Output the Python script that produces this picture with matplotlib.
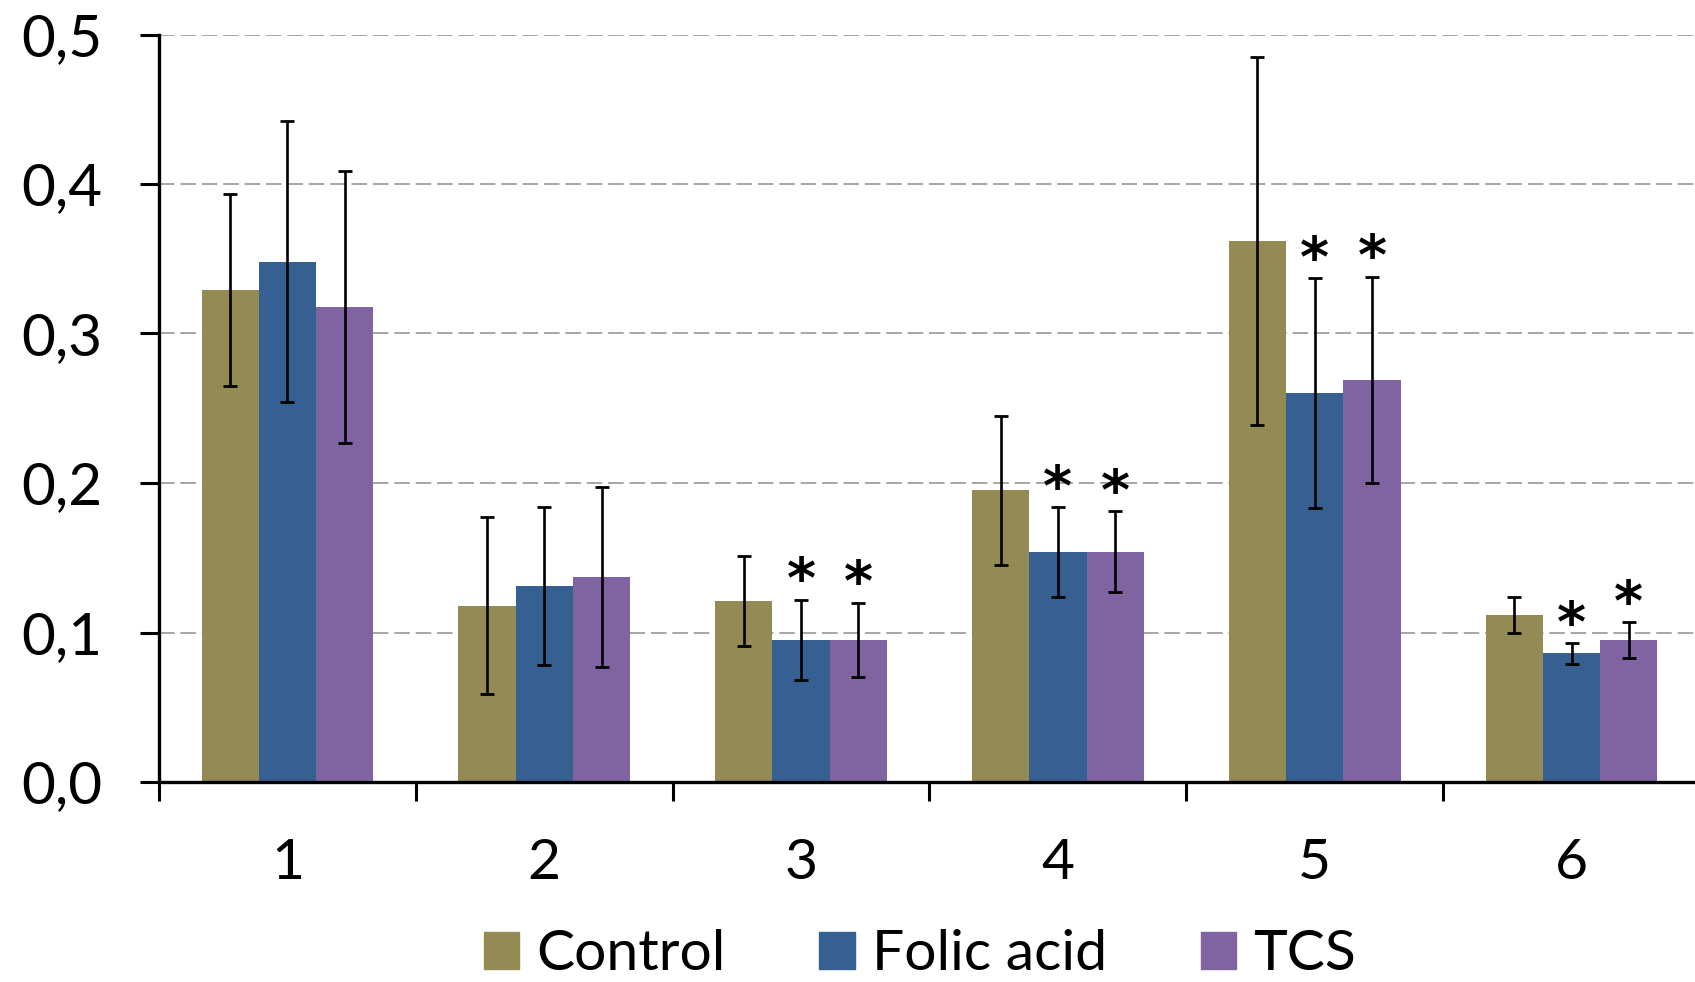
import matplotlib
matplotlib.use("Agg")
import matplotlib.pyplot as plt
import numpy as np
from matplotlib.patches import Patch

plt.rcParams['font.family'] = ['Lato', 'DejaVu Sans']

groups = ['1', '2', '3', '4', '5', '6']
series = ['Control', 'Folic acid', 'TCS']
colors = ['#948A54', '#376092', '#8064A2']

control = [0.329, 0.118, 0.121, 0.195, 0.362, 0.112]
control_err = [0.064, 0.059, 0.030, 0.050, 0.123, 0.012]
folic = [0.348, 0.131, 0.095, 0.154, 0.260, 0.086]
folic_err = [0.094, 0.053, 0.027, 0.030, 0.077, 0.007]
tcs = [0.318, 0.137, 0.095, 0.154, 0.269, 0.095]
tcs_err = [0.091, 0.060, 0.025, 0.027, 0.069, 0.012]

# significance marks (*)
control_sig = [False] * 6
folic_sig = [False, False, True, True, True, True]
tcs_sig = [False, False, True, True, True, True]

valori = [control, folic, tcs]
errori = [control_err, folic_err, tcs_err]
sig = [control_sig, folic_sig, tcs_sig]

fig = plt.figure(figsize=(16.95, 9.82), dpi=100)
ax = fig.add_axes([159 / 1695, 200 / 982, (1700 - 159) / 1695, (782 - 34.5) / 982])

x = np.arange(len(groups))
w = 0.223
for i in range(3):
    pos = x + (i - 1) * w
    ax.bar(pos, valori[i], width=w, color=colors[i], label=series[i], zorder=2)
    ax.errorbar(pos, valori[i], yerr=errori[i], fmt='none', ecolor='black',
                elinewidth=1.9, capsize=4.7, capthick=2.0, zorder=3)
    for j in range(len(groups)):
        if sig[i][j]:
            ax.annotate('*', (pos[j], valori[i][j] + errori[i][j]),
                        xytext=(0, -7), textcoords='offset points',
                        ha='center', va='bottom', fontsize=40, fontweight='bold',
                        family='DejaVu Sans')

ax.set_xlim(-0.5, len(groups) - 0.5)
ax.set_ylim(0, 0.5)
ax.set_yticks(np.arange(0, 0.51, 0.1))
ax.set_yticklabels([f"{v:.1f}".replace('.', ',') for v in np.arange(0, 0.51, 0.1)])
ax.yaxis.grid(True, linestyle='--', dashes=(8, 3), color='#A6A6A6', linewidth=1.4, zorder=0)

ax.set_xticks(x)
ax.set_xticklabels(groups)
ax.set_xticks(np.arange(-0.5, len(groups) + 0.5, 1), minor=True)
ax.tick_params(axis='x', which='major', length=0, pad=40, labelsize=41)
ax.tick_params(axis='x', which='minor', length=14, width=2.2, direction='out')
ax.tick_params(axis='y', length=14, width=2.2, pad=27, labelsize=42)

for s in ['top', 'right']:
    ax.spines[s].set_visible(False)
for s in ['left', 'bottom']:
    ax.spines[s].set_linewidth(2.4)
ax.set_axisbelow(True)

handles = [Patch(color=c) for c in colors]
fig.legend(handles, series, loc='center', bbox_to_anchor=(920 / 1695, 1 - 955 / 982),
           ncol=3, frameon=False, fontsize=41, handlelength=0.62, handleheight=0.62,
           handletextpad=0.3, columnspacing=1.65, borderpad=0.1)

plt.savefig("out.png", dpi=100)
